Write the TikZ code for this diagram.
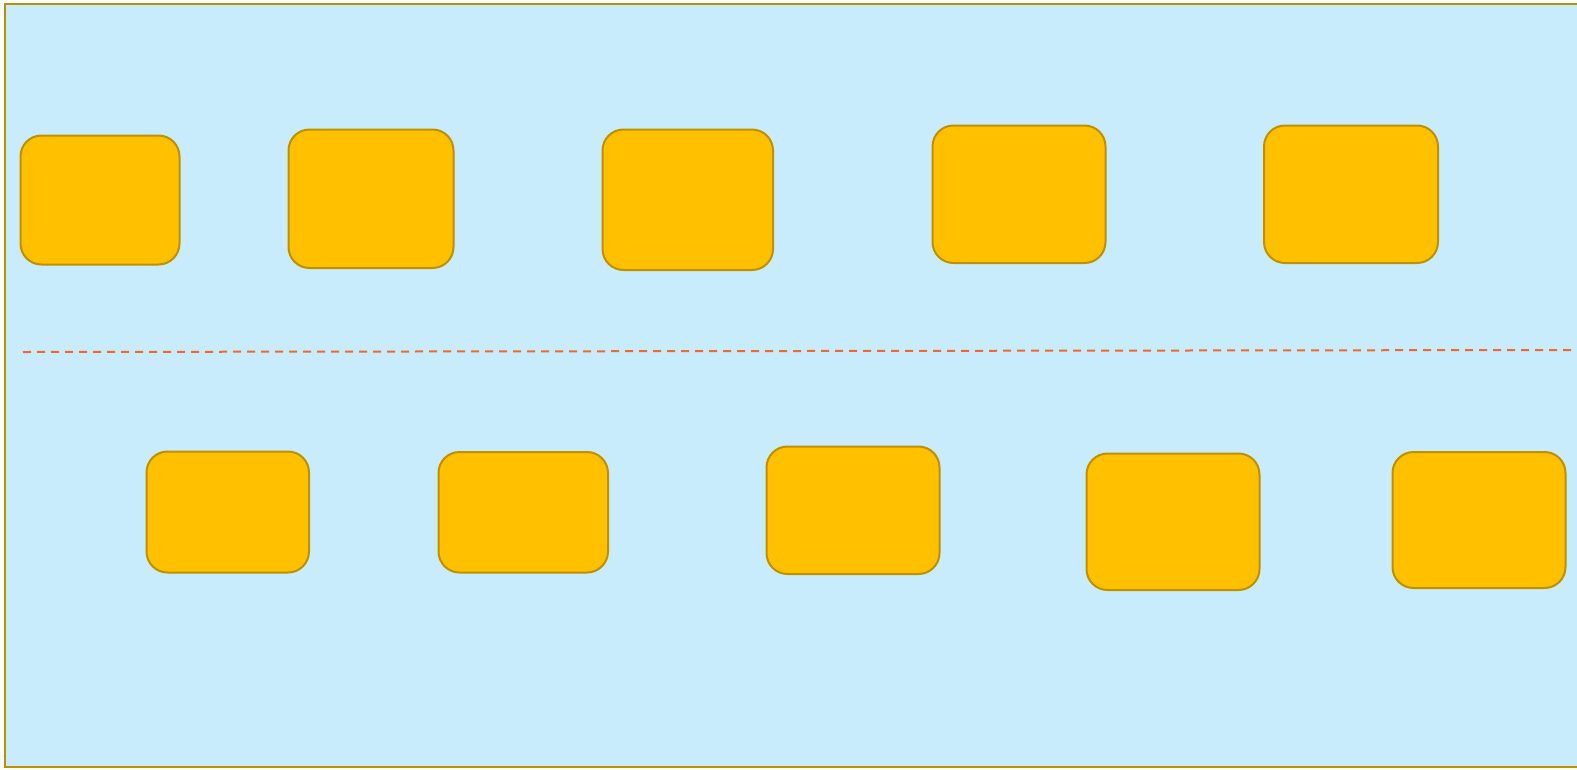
\documentclass[tikz,border=0pt]{standalone}
\definecolor{bgblue}{HTML}{C9ECFC}
\definecolor{boxfill}{HTML}{FFC000}
\definecolor{boxline}{HTML}{BF9000}
\definecolor{dashorange}{HTML}{F0692A}
\tikzset{
  card/.style={draw=boxline, fill=boxfill, line width=2pt, rounded corners=21pt,
    rectangle, inner sep=0pt, outer sep=0pt},
  frame/.style={draw=boxline, fill=bgblue, line width=2pt},
  divider/.style={draw=dashorange, line width=2pt, dash pattern=on 8pt off 6pt}
}
\newcommand{\cardbox}[5]{%
  \node[card, minimum width={#4-#2}, minimum height={#5-#3}] (#1) at ({(#2+#4)/2},{(#3+#5)/2}) {};}
\begin{document}
\begin{tikzpicture}[x=1pt,y=-1pt]
  \useasboundingbox (0,0) rectangle (1577,769);
  \clip (0,0) rectangle (1577,769);
  \path[frame] (4.7,4) rectangle (1600,766.5);
  \cardbox{b1}{20.5}{135.5}{179.5}{264.5}
  \cardbox{b2}{288.5}{129.5}{453.5}{268}
  \cardbox{b3}{602.5}{129.5}{773}{270}
  \cardbox{b4}{932.5}{125.5}{1105.5}{263}
  \cardbox{b5}{1264}{125.5}{1438}{263}
  \cardbox{b6}{146.5}{451.5}{309}{572.5}
  \cardbox{b7}{438.5}{452}{608}{572.5}
  \cardbox{b8}{766.5}{446.5}{939.5}{574}
  \cardbox{b9}{1086.5}{453.5}{1259.5}{590}
  \cardbox{b10}{1392.5}{452}{1565.5}{588}
  \coordinate (dl) at (23,352);
  \coordinate (dr) at (1571,350);
  \draw[divider] (dl) -- (dr);
\end{tikzpicture}
\end{document}
